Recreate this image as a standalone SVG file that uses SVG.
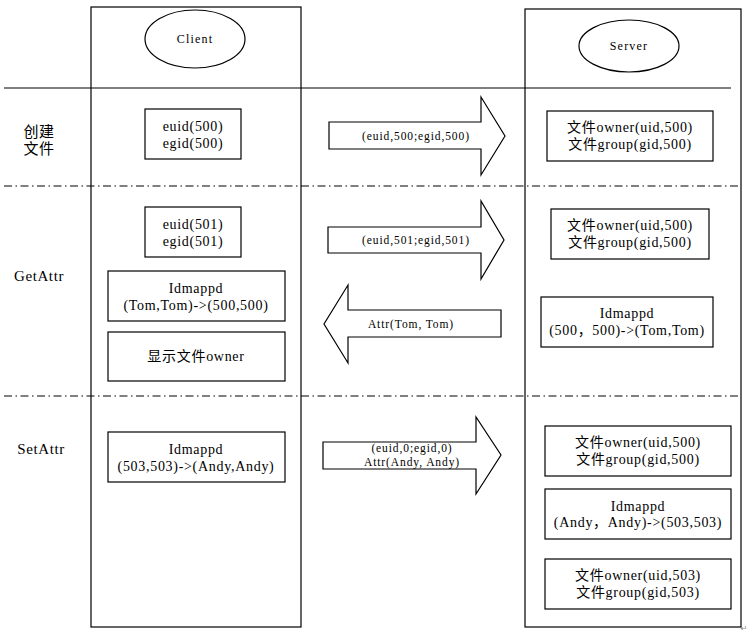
<svg xmlns="http://www.w3.org/2000/svg" width="750" height="633" viewBox="0 0 750 633">
<style>
.ln{stroke:#000;stroke-width:1.2;fill:none}
.dd{stroke:#000;stroke-width:1;fill:none;stroke-dasharray:8 3.5 1.5 3.5}
.bx{stroke:#000;stroke-width:1.2;fill:#fff}
.t{font-family:"Liberation Serif","Noto Sans CJK SC",serif;font-size:14px;letter-spacing:0.7px;fill:#000;text-anchor:middle}
.s{font-family:"Liberation Serif","Noto Sans CJK SC",serif;font-size:11.5px;letter-spacing:0.9px;fill:#000;text-anchor:middle}
.h{font-family:"Liberation Serif","Noto Sans CJK SC",serif;font-size:12px;letter-spacing:1.2px;fill:#000;text-anchor:middle}
.l{font-family:"Liberation Serif","Noto Sans CJK SC",serif;font-size:15px;letter-spacing:0.6px;fill:#000;text-anchor:middle}
</style>
<rect width="750" height="633" fill="#fff"/>
<g id="lanes">
<rect id="client-lane" class="ln" x="91" y="7" width="210" height="620"/>
<rect id="server-lane" class="ln" x="525" y="9" width="216" height="618"/>
<line class="ln" x1="4" y1="88" x2="731" y2="88"/>
<line class="dd" x1="4" y1="186" x2="741" y2="186"/>
<line class="dd" x1="4" y1="396" x2="741" y2="396"/>
</g>
<g id="row-labels">
<text class="l" x="39" y="137">创建</text>
<text class="l" x="39" y="154">文件</text>
<text class="l" x="39" y="281">GetAttr</text>
<text class="l" x="41" y="454">SetAttr</text>
</g>
<g id="client">
<ellipse class="bx" cx="195" cy="39" rx="50" ry="29"/>
<text class="h" x="195" y="43">Client</text>
</g>
<g id="server">
<ellipse class="bx" cx="629" cy="46" rx="50" ry="26"/>
<text class="h" x="629" y="50">Server</text>
</g>
<g id="c-create">
<rect class="bx" x="145" y="109" width="96" height="50"/>
<text class="t" x="193" y="131">euid(500)</text>
<text class="t" x="193" y="148">egid(500)</text>
</g>
<g id="c-get-ids">
<rect class="bx" x="145" y="207" width="96" height="50"/>
<text class="t" x="193" y="229">euid(501)</text>
<text class="t" x="193" y="246">egid(501)</text>
</g>
<g id="c-get-idmap">
<rect class="bx" x="108" y="271" width="177" height="50"/>
<text class="t" x="196" y="293">Idmappd</text>
<text class="t" x="196" y="310">(Tom,Tom)-&gt;(500,500)</text>
</g>
<g id="c-get-show">
<rect class="bx" x="108" y="332" width="177" height="49"/>
<text class="t" x="196" y="361">显示文件owner</text>
</g>
<g id="c-set-idmap">
<rect class="bx" x="108" y="432" width="177" height="50"/>
<text class="t" x="196" y="454">Idmappd</text>
<text class="t" x="196" y="471">(503,503)-&gt;(Andy,Andy)</text>
</g>
<g id="s-create">
<rect class="bx" x="547" y="111" width="166" height="50"/>
<text class="t" x="630" y="132">文件owner(uid,500)</text>
<text class="t" x="630" y="149">文件group(gid,500)</text>
</g>
<g id="s-get-owner">
<rect class="bx" x="551" y="209" width="158" height="50"/>
<text class="t" x="630" y="230">文件owner(uid,500)</text>
<text class="t" x="630" y="247">文件group(gid,500)</text>
</g>
<g id="s-get-idmap">
<rect class="bx" x="541" y="297" width="172" height="50"/>
<text class="t" x="627" y="318">Idmappd</text>
<text class="t" x="627" y="335">(500，500)-&gt;(Tom,Tom)</text>
</g>
<g id="s-set-owner1">
<rect class="bx" x="545" y="426" width="186" height="50"/>
<text class="t" x="638" y="447">文件owner(uid,500)</text>
<text class="t" x="638" y="464">文件group(gid,500)</text>
</g>
<g id="s-set-idmap">
<rect class="bx" x="545" y="489" width="186" height="50"/>
<text class="t" x="638" y="511">Idmappd</text>
<text class="t" x="638" y="527">(Andy，Andy)-&gt;(503,503)</text>
</g>
<g id="s-set-owner2">
<rect class="bx" x="545" y="559" width="186" height="50"/>
<text class="t" x="638" y="580">文件owner(uid,503)</text>
<text class="t" x="638" y="597">文件group(gid,503)</text>
</g>
<g id="connectors">
<g id="arrow-create">
<polygon class="bx" points="329,122 481,122 481,97 505,136 481,175 481,149 329,149"/>
<text class="s" x="416" y="140">(euid,500;egid,500)</text>
</g>
<g id="arrow-get-req">
<polygon class="bx" points="328,227 481,227 481,201 504,240 481,279 481,253 328,253"/>
<text class="s" x="416" y="244">(euid,501;egid,501)</text>
</g>
<g id="arrow-get-resp">
<polygon class="bx" points="501,310 348,310 348,285 324,324 348,363 348,337 501,337"/>
<text class="s" x="411" y="328">Attr(Tom, Tom)</text>
</g>
<g id="arrow-set">
<polygon class="bx" points="323,442 476,442 476,417 501,455 476,494 476,469 323,469"/>
<text class="s" x="412" y="452">(euid,0;egid,0)</text>
<text class="s" x="412" y="466">Attr(Andy, Andy)</text>
</g>
</g>
<text x="744" y="631" font-family="DejaVu Sans, sans-serif" font-size="8" fill="#888" text-anchor="middle">↵</text>
</svg>
